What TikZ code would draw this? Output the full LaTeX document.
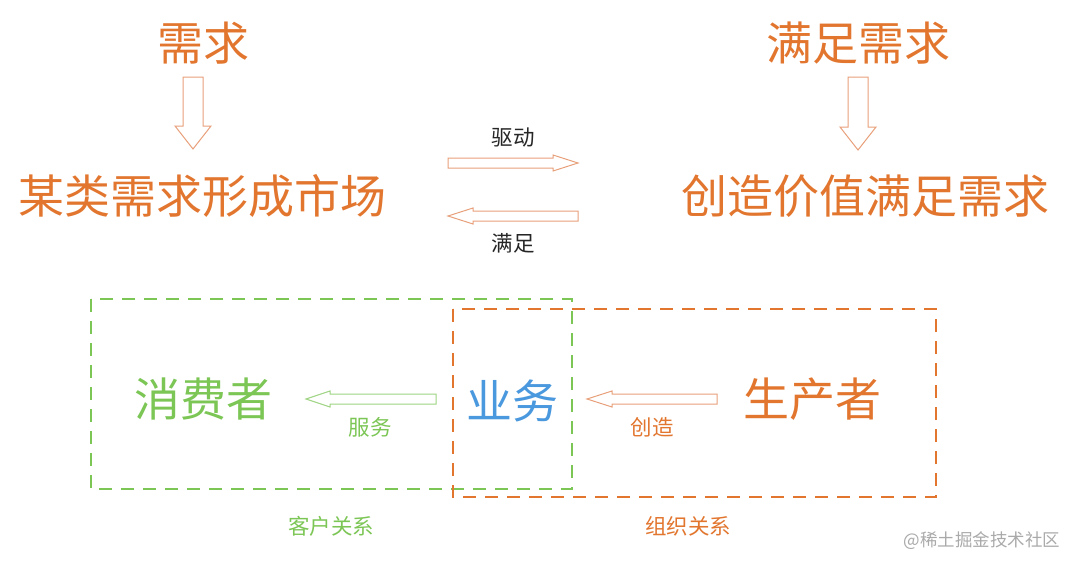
\documentclass[tikz,border=0pt]{standalone}
\usepackage{fontspec}
\newfontfamily\cjk{Noto Sans CJK SC}
\definecolor{cOrange}{HTML}{E2762F}
\definecolor{cGreen}{HTML}{7CC655}
\definecolor{cBlue}{HTML}{4A98DE}
\definecolor{cArrowO}{HTML}{E8A07A}
\definecolor{cArrowG}{HTML}{9ED482}
\definecolor{cGray}{HTML}{AAAAAA}
\begin{document}
\begin{tikzpicture}[x=1pt,y=1pt,
  big/.style={inner sep=0pt,font=\cjk\fontsize{46}{50}\selectfont},
  small/.style={inner sep=0pt,font=\cjk\fontsize{21.5}{24}\selectfont},
  oframe/.style={draw=cOrange,line width=2.4pt,dash pattern=on 13pt off 9pt},
  gframe/.style={draw=cGreen,line width=2.4pt,dash pattern=on 13pt off 9pt},
  oarrow/.style={draw=cArrowO,line width=1pt,fill=white,line join=miter},
  garrow/.style={draw=cArrowG,line width=1pt,fill=white,line join=miter}]
\useasboundingbox[fill=white] (0,0) rectangle (1080,-568);

% frames
\draw[gframe] (91,-299) rectangle (572,-489);
\draw[oframe] (453,-309) rectangle (936,-497);

% top texts
\node[big,text=cOrange] (need) at (203,-43) {需求};
\node[big,text=cOrange] (market) at (203,-196) {某类需求形成市场};
\node[big,text=cOrange] (satisfy) at (858,-43) {满足需求};
\node[big,text=cOrange] (value) at (865,-196) {创造价值满足需求};
\node[small,text=black!85] (drive) at (513,-137) {驱动};
\node[small,text=black!85] (sat) at (513,-243) {满足};

% down arrows
\draw[oarrow] (183,-77) -- (203,-77) -- (203,-126) -- (211,-126) -- (193,-149) -- (175,-126) -- (183,-126) -- cycle;
\draw[oarrow] (848,-77) -- (868,-77) -- (868,-127) -- (876,-127) -- (858,-150) -- (840,-127) -- (848,-127) -- cycle;

% right arrow (drive)
\draw[oarrow] (448,-158) -- (553,-158) -- (553,-155) -- (578,-163) -- (553,-171) -- (553,-168) -- (448,-168) -- cycle;
% left arrow (satisfy)
\draw[oarrow] (578,-211) -- (473,-211) -- (473,-208) -- (448,-216) -- (473,-224) -- (473,-221) -- (578,-221) -- cycle;

% bottom texts
\node[big,text=cGreen] (consumer) at (203,-399) {消费者};
\node[big,text=cBlue] (biz) at (512,-401) {业务};
\node[big,text=cOrange] (producer) at (812,-399) {生产者};
\node[small,text=cGreen] (serve) at (370,-427) {服务};
\node[small,text=cOrange] (create) at (652,-427) {创造};
\node[small,text=cGreen] (cust) at (331,-526) {客户关系};
\node[small,text=cOrange] (org) at (688,-526) {组织关系};

% green arrow
\draw[garrow] (436,-394) -- (330,-394) -- (330,-391) -- (306,-399) -- (330,-407) -- (330,-404) -- (436,-404) -- cycle;
% orange arrow
\draw[oarrow] (717,-394) -- (612,-394) -- (612,-391) -- (587,-399) -- (612,-407) -- (612,-404) -- (717,-404) -- cycle;

% watermark
\node[inner sep=0pt,font=\cjk\fontsize{17.5}{20}\selectfont,text=cGray] (wm) at (982,-541) {@稀土掘金技术社区};
\end{tikzpicture}
\end{document}
